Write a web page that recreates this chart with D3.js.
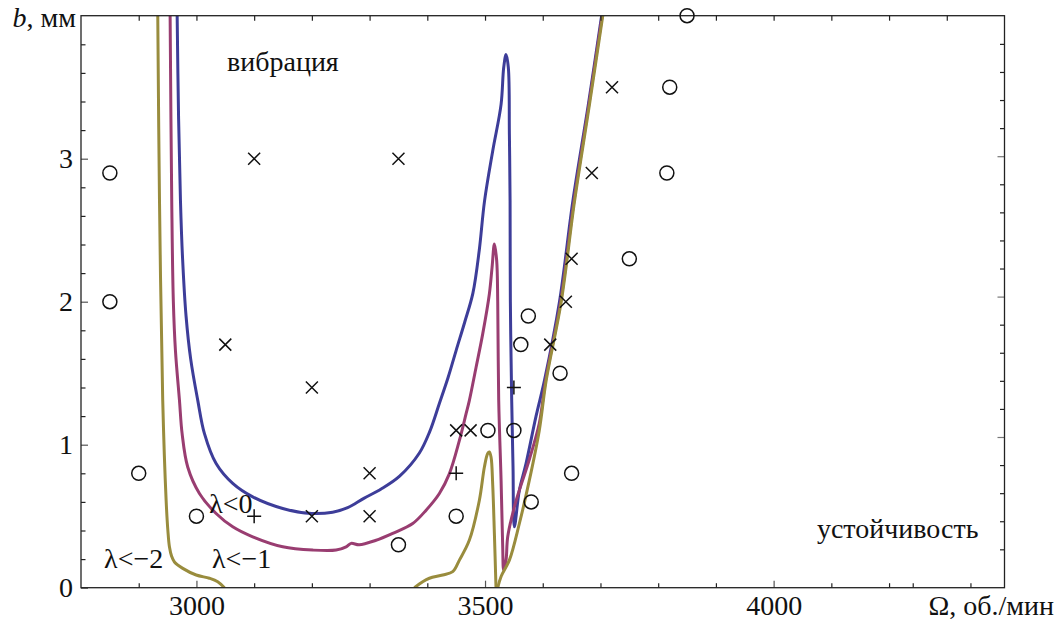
<!DOCTYPE html>
<html><head><meta charset="utf-8">
<script src="https://cdn.jsdelivr.net/npm/d3@7"></script>
<style>
body{margin:0;background:#fff;}
svg text{font-family:"Liberation Serif","Times New Roman",serif;fill:#111;}
</style></head>
<body><svg id="c" width="1063" height="622"></svg>
<script>
// ---- data ----
const blueCurve = [[2966.6,4.0],[2969,3.3],[2972.3,2.71],[2976,2.3],[2982,1.9],[2990,1.6],[3002.3,1.31],[3013.9,1.077],[3034.1,0.868],[3062.9,0.729],[3097.5,0.635],[3149.5,0.554],[3199.7,0.519],[3236,0.528],[3262,0.56],[3290,0.625],[3320,0.69],[3352,0.78],[3386,0.94],[3404,1.09],[3421,1.29],[3436,1.47],[3450,1.66],[3465,1.86],[3479,2.06],[3490,2.36],[3499,2.7],[3513.3,3.054],[3527.8,3.38],[3532.3,3.636],[3536.4,3.729],[3540.4,3.636],[3542.2,3.17],[3543.4,2.706],[3543.9,2.0],[3546.2,1.31],[3548.5,0.844],[3550.8,0.426],[3559.5,0.682],[3571,0.868],[3588.4,1.2],[3603,1.45],[3629,2.0],[3652,2.7],[3679,3.38],[3702,4.0]];
const magentaCurve = [[2954.4,4.0],[2957.2,2.706],[2960,2.0],[2963.6,1.66],[2970.6,1.31],[2975.2,1.077],[2984.9,0.844],[3005.2,0.659],[3034.1,0.519],[3062.9,0.426],[3097.5,0.356],[3149.5,0.286],[3201.5,0.263],[3242,0.263],[3259.3,0.286],[3268,0.31],[3282,0.3],[3310,0.33],[3340,0.38],[3374.7,0.449],[3397.9,0.542],[3420.9,0.659],[3438.3,0.798],[3455.6,1.03],[3467.2,1.217],[3472.9,1.31],[3484.5,1.542],[3496,1.775],[3507.5,2.054],[3512.2,2.24],[3516.2,2.403],[3520.2,2.287],[3522,2.0],[3523.7,1.31],[3527.8,0.752],[3530.6,0.286],[3532.3,0.124],[3536.4,0.193],[3539.3,0.356],[3550.8,0.565],[3559.5,0.682],[3577,0.9],[3594,1.15],[3605,1.45],[3631,2.0],[3654,2.7],[3680,3.38],[3703,4.0]];
const goldLeft = [[2933,4.0],[2936,2.706],[2941.6,1.31],[2947.5,0.61],[2950.5,0.4],[2953.2,0.286],[2957,0.22],[2961.9,0.18],[2976.3,0.135],[2999.5,0.089],[3022.5,0.066],[3036.9,0.042],[3048.5,0.0]];
const goldMid = [[3377.6,0.0],[3392,0.042],[3403.6,0.066],[3426.7,0.089],[3444,0.112],[3455.6,0.193],[3472.9,0.333],[3490.2,0.612],[3498.9,0.844],[3504.6,0.938],[3507.5,0.949],[3510.4,0.914],[3513.3,0.72],[3516.2,0.38],[3519,0.0]];
const goldRight = [[3522,0.0],[3528,0.08],[3542.2,0.193],[3559.5,0.449],[3576.8,0.752],[3594,1.1],[3606,1.45],[3632,2.0],[3655,2.7],[3681,3.38],[3704,4.0]];

const circles = [[2850,2.9],[2850,2.0],[2900,0.8],[3000,0.5],[3350,0.3],[3450,0.5],[3505,1.1],[3550,1.1],[3580,0.6],[3650,0.8],[3630,1.5],[3575,1.9],[3562,1.7],[3750,2.3],[3815,2.9],[3820,3.5],[3850,4.0]];
const crosses = [[3100,3.0],[3350,3.0],[3050,1.7],[3200,1.4],[3200,0.5],[3300,0.8],[3300,0.5],[3450,1.1],[3475,1.1],[3613,1.7],[3640,2.0],[3650,2.3],[3685,2.9],[3720,3.5]];
const pluses = [[3100,0.5],[3450,0.8],[3550,1.4]];

const xMajorTicks = [3000,3500,4000];
const xMinorTicks = [2900,3100,3200,3300,3400,3600,3700,3800,3900,4100,4200,4241,4341];
const xTopTicks = [2900,3000,3100,3200,3300,3400,3500,3600,3700,3800,3900,4000,4100,4200,4300];
const yMajorTicks = [0,1,2,3];
const yMinorTicks = [0.2,0.4,0.6,0.8,1.2,1.4,1.6,1.8,2.2,2.4,2.6,2.8,3.2,3.4,3.6,3.8];
const yRightMajor = [1,2,3];
const yRightMinor = [0.2,0.4,0.6,0.8,1.2,1.4,1.6,1.8,2.2,2.4,2.6,2.8,3.2,3.4,3.6,3.8];

const labels = [
  {t:"вибрация", x:3053, y:3.613},
  {t:"устойчивость", x:4075, y:0.347},
  {t:"λ<0", x:3022, y:0.521},
  {t:"λ<−1", x:3027, y:0.137},
  {t:"λ<−2", x:2840, y:0.137}
];

// ---- drawing ----
const FS = "28px";
const svg = d3.select("#c");
const x = d3.scaleLinear().domain([2800,4400]).range([81,1004.5]);
const y = d3.scaleLinear().domain([0,4]).range([587.7,15.7]);
const yR = d3.scaleLinear().domain([0,4]).range([577.4,15.8]);

svg.append("defs").append("clipPath").attr("id","clip")
  .append("rect").attr("x",81).attr("y",15.7).attr("width",923.5).attr("height",572);

const line = d3.line().x(d=>x(d[0])).y(d=>y(d[1])).curve(d3.curveCatmullRom.alpha(0.5));
const g = svg.append("g").attr("clip-path","url(#clip)");
const series = [
  {d:blueCurve, c:"#3d3d99"},
  {d:magentaCurve, c:"#993d71"},
  {d:goldLeft, c:"#998c3d"},
  {d:goldMid, c:"#998c3d"},
  {d:goldRight, c:"#998c3d"}
];
series.forEach(s=>{
  g.append("path").attr("d",line(s.d)).attr("fill","none")
   .attr("stroke",s.c).attr("stroke-width",3).attr("stroke-linejoin","round");
});

// axes
function styleAxis(sel, col){
  sel.select(".domain").remove();
  sel.selectAll(".tick line").attr("stroke",col).attr("stroke-width",1.2);
  sel.selectAll("text").style("font-size",FS).style("font-family",'"Liberation Serif",serif').attr("fill","#111");
}
const B = 587.7, T = 15.7, L = 81, R = 1004.5;
svg.append("g").attr("transform",`translate(0,${B})`)
  .call(d3.axisBottom(x).tickValues(xMajorTicks).tickSizeInner(-7).tickSizeOuter(0).tickPadding(7).tickFormat(d3.format("d")))
  .call(s=>styleAxis(s,"#555"));
svg.append("g").attr("transform",`translate(0,${B})`)
  .call(d3.axisBottom(x).tickValues(xMinorTicks).tickSizeInner(-4.5).tickSizeOuter(0).tickFormat(""))
  .call(s=>styleAxis(s,"#222"));
svg.append("g").attr("transform",`translate(0,${T})`)
  .call(d3.axisTop(x).tickValues(xTopTicks).tickSizeInner(-5).tickSizeOuter(0).tickFormat(""))
  .call(s=>styleAxis(s,"#222"));
svg.append("g").attr("transform",`translate(${L},0)`)
  .call(d3.axisLeft(y).tickValues(yMajorTicks).tickSizeInner(-7).tickSizeOuter(0).tickPadding(8).tickFormat(d3.format("d")))
  .call(s=>styleAxis(s,"#555"));
svg.append("g").attr("transform",`translate(${L},0)`)
  .call(d3.axisLeft(y).tickValues(yMinorTicks).tickSizeInner(-4.5).tickSizeOuter(0).tickFormat(""))
  .call(s=>styleAxis(s,"#222"));
svg.append("g").attr("transform",`translate(${R},0)`)
  .call(d3.axisRight(yR).tickValues(yRightMajor).tickSizeInner(-7).tickSizeOuter(0).tickFormat(""))
  .call(s=>styleAxis(s,"#777"));
svg.append("g").attr("transform",`translate(${R},0)`)
  .call(d3.axisRight(yR).tickValues(yRightMinor).tickSizeInner(-4.5).tickSizeOuter(0).tickFormat(""))
  .call(s=>styleAxis(s,"#222"));

// frame
svg.append("rect").attr("x",L).attr("y",T).attr("width",R-L).attr("height",B-T)
  .attr("fill","none").attr("stroke","#222").attr("stroke-width",1.3);

// markers
const mk = svg.append("g").attr("stroke","#111").attr("stroke-width",1.5).attr("fill","none");
mk.selectAll("circle.o").data(circles).join("circle").attr("class","o")
  .attr("cx",d=>x(d[0])).attr("cy",d=>y(d[1])).attr("r",7);
const cs = 6;
mk.selectAll("path.x").data(crosses).join("path").attr("class","x")
  .attr("d",d=>{const cx=x(d[0]),cy=y(d[1]);return `M${cx-cs},${cy-cs}L${cx+cs},${cy+cs}M${cx-cs},${cy+cs}L${cx+cs},${cy-cs}`;});
const ps = 7;
mk.selectAll("path.p").data(pluses).join("path").attr("class","p")
  .attr("d",d=>{const cx=x(d[0]),cy=y(d[1]);return `M${cx-ps},${cy}L${cx+ps},${cy}M${cx},${cy-ps}L${cx},${cy+ps}`;});

// labels
svg.selectAll("text.lbl").data(labels).join("text").attr("class","lbl")
  .attr("x",d=>x(d.x)).attr("y",d=>y(d.y))
  .style("font-size",FS).text(d=>d.t);

// axis titles
const yt = svg.append("text").attr("x",76).attr("y",27).attr("text-anchor","end").style("font-size",FS);
yt.append("tspan").style("font-style","italic").text("b");
yt.append("tspan").text(", мм");
svg.append("text").attr("x",1054).attr("y",615).attr("text-anchor","end").style("font-size",FS).text("Ω, об./мин");
</script></body></html>
